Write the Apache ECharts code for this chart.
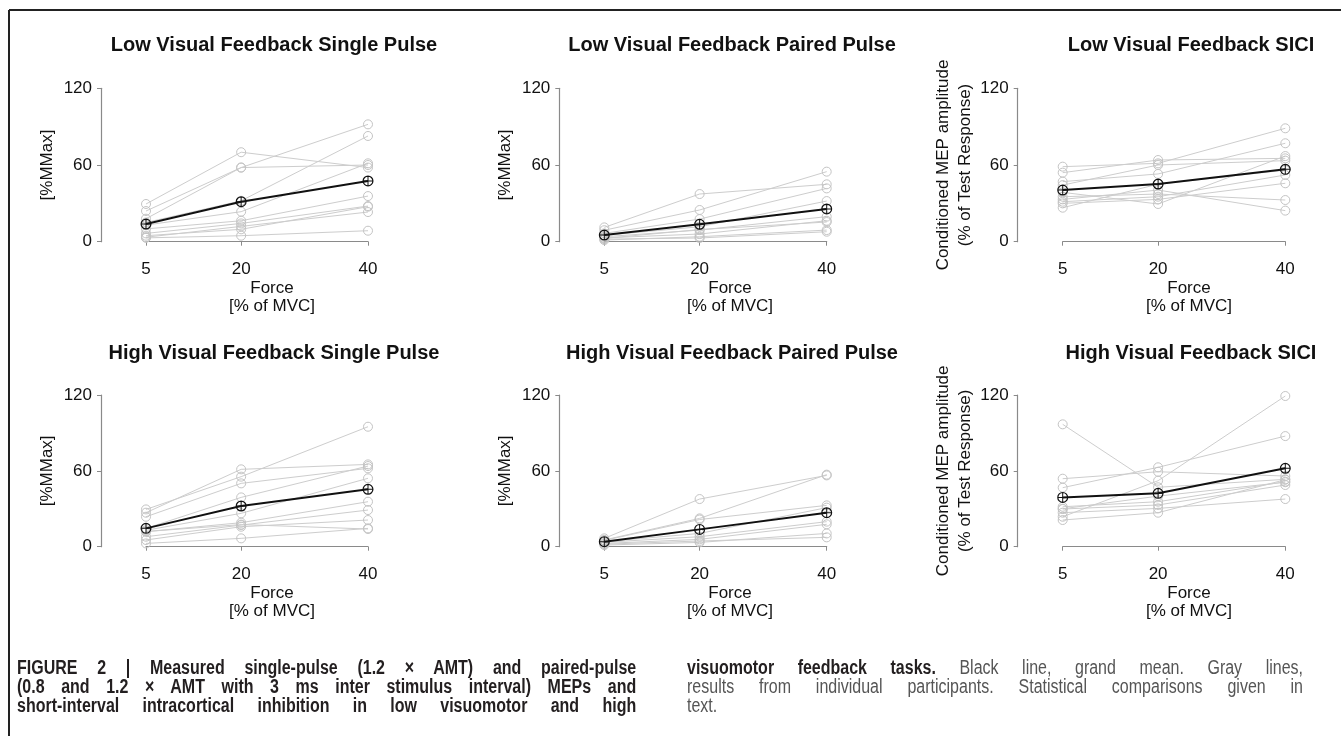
<!DOCTYPE html>
<html><head><meta charset="utf-8">
<script src="https://cdn.jsdelivr.net/npm/echarts@6/dist/echarts.min.js"></script>
<style>
html,body{margin:0;padding:0;background:#fff;}
#chart{position:absolute;left:0;top:0;width:1341px;height:736px;}
.cap{position:absolute;font-family:"Liberation Sans",Arial,sans-serif;font-size:20px;line-height:19px;transform:scaleX(0.8);transform-origin:0 0;}
.cap div{text-align:justify;text-align-last:justify;white-space:nowrap;}
.cap div.last{text-align-last:left;}
.b{font-weight:bold;color:#231f20;}
.r{color:#555;}
</style>
</head><body>
<div id="chart"></div>
<div class="cap" style="left:17px;top:658px;width:774px;">
<div class="b">FIGURE 2 | Measured single-pulse (1.2 × AMT) and paired-pulse</div>
<div class="b">(0.8 and 1.2 × AMT with 3 ms inter stimulus interval) MEPs and</div>
<div class="b">short-interval intracortical inhibition in low visuomotor and high</div>
</div>
<div class="cap" style="left:687px;top:658px;width:770px;">
<div><span class="b">visuomotor feedback tasks.</span> <span class="r">Black line, grand mean. Gray lines,</span></div>
<div class="r">results from individual participants. Statistical comparisons given in</div>
<div class="r last">text.</div>
</div>
<script>
// Force levels (x values / tick labels)
const forceLevels = [5, 20, 40];
const yTicks = [0, 60, 120];

// Panel titles
const panelTitles = [
  "Low Visual Feedback Single Pulse", "Low Visual Feedback Paired Pulse", "Low Visual Feedback SICI",
  "High Visual Feedback Single Pulse", "High Visual Feedback Paired Pulse", "High Visual Feedback SICI"
];
const yNameMMax = "[%MMax]";
const yNameSICI = "Conditioned MEP amplitude\n(% of Test Response)";
const xName = "Force\n[% of MVC]";

// Individual participants: values at 5, 20, 40 % MVC
const lowSP = [[29.5,70,58],[24,58,91.8],[18,58,60],[15,32,82.7],[13,23.5,61.3],[10,16.4,35.7],[6.5,14.3,27.9],[4.7,9.7,27.4],[3.5,12,23.2],[3,4.7,8.6]];
const lowSPMean = [13.8,31.3,47.5];
const lowPP = [[11.2,37.3,44.9],[9,24.8,54.8],[6.5,17.7,41.7],[5,11.7,31.8],[3.9,9.1,19.6],[3,6,16.4],[2.6,9.5,15.4],[1.3,3.9,9.1],[2,2.9,7.8]];
const lowPPMean = [5.2,13.6,25.6];
const lowSICI = [[58.7,61.3,88.7],[54,63.9,65.2],[47,53,77],[44.3,60,63.4],[38.6,29.5,67],[35.2,37.3,32.6],[33.1,40.4,24.3],[31.3,35.2,52.2],[30,33.1,45.7],[26.6,45,56]];
const lowSICIMean = [40.4,45.1,56.6];
const highSP = [[29.5,55.4,94.9],[26.9,61.2,65.1],[23.7,50.1,62],[14.5,39,63.8],[13,26.4,54.1],[11.9,19,35.6],[7.9,17.1,29],[5.3,15.8,21.1],[2.6,6.6,14.5],[12,17.5,14]];
const highSPMean = [14.5,32.2,45.4];
const highPP = [[6.6,37.7,56.4],[5.3,22.4,57],[5,21.5,32.7],[4,10.5,30.9],[3.5,7.9,19.8],[2.6,5.8,17.7],[1.3,3.4,10.5],[2,4.5,7.4]];
const highPPMean = [4,13.7,26.9];
const highSICI = [[96.8,47,53.3],[53.8,59.3,55.9],[46.7,62.8,87.5],[31.6,35.6,51.4],[29.8,33,48.8],[26.9,30.3,37.7],[23.7,52.2,119.2],[21.1,26.9,53],[30,40,51]];
const highSICIMean = [39,42.2,62];

const panels = [
  {ind: lowSP, mean: lowSPMean, yName: yNameMMax},
  {ind: lowPP, mean: lowPPMean, yName: yNameMMax},
  {ind: lowSICI, mean: lowSICIMean, yName: yNameSICI},
  {ind: highSP, mean: highSPMean, yName: yNameMMax},
  {ind: highPP, mean: highPPMean, yName: yNameMMax},
  {ind: highSICI, mean: highSICIMean, yName: yNameSICI}
];

// layout
const W = 1341, H = 736;
const colLeft = [146, 604.3, 1062.7];
const colRight = [368, 826.7, 1285.3];
const colCenter = [272, 730, 1189];
const rowTop = [88.3, 395];
const rowBottom = [241.7, 546.7];
const titleTop = [30, 338];
const FONT = '"Liberation Sans", Arial, sans-serif';
const meanSymbol = 'path://M10 0A10 10 0 1 1 10 20A10 10 0 1 1 10 0ZM10 2.2A7.8 7.8 0 1 0 10 17.8A7.8 7.8 0 1 0 10 2.2ZM9.1 2L10.9 2L10.9 18L9.1 18ZM2 9.1L18 9.1L18 10.9L2 10.9Z';

const grid = [], xAxis = [], yAxis = [], series = [], title = [];
panels.forEach((p, k) => {
  const r = Math.floor(k / 3), c = k % 3;
  grid.push({left: colLeft[c], width: colRight[c] - colLeft[c], top: rowTop[r], height: rowBottom[r] - rowTop[r], containLabel: false});
  title.push({text: panelTitles[k], left: colCenter[c] - 3, top: titleTop[r], textAlign: 'center',
    textStyle: {fontFamily: FONT, fontSize: 20, fontWeight: 'bold', color: '#111'}});
  const shift = (colCenter[c] - (colLeft[c] + colRight[c]) / 2) * 2;
  xAxis.push({type: 'value', gridIndex: k, min: forceLevels[0], max: forceLevels[forceLevels.length - 1], offset: 7,
    axisLine: {show: true, lineStyle: {color: '#8a8a8a', width: 1.2}},
    axisTick: {show: true, length: 4, lineStyle: {color: '#8a8a8a'}, customValues: forceLevels},
    axisLabel: {show: true, customValues: forceLevels, margin: 12, fontFamily: FONT, fontSize: 17, color: '#111'},
    splitLine: {show: false},
    name: xName, nameLocation: 'middle', nameGap: 25,
    nameTextStyle: {fontFamily: FONT, fontSize: 17, color: '#111', lineHeight: 18.5, padding: [0, 0, 0, shift]}
  });
  yAxis.push({type: 'value', gridIndex: k, min: yTicks[0], max: yTicks[yTicks.length - 1], interval: 60, offset: 45,
    axisLine: {show: true, lineStyle: {color: '#8a8a8a', width: 1.2}},
    axisTick: {show: true, length: 4, lineStyle: {color: '#8a8a8a'}},
    axisLabel: {margin: 9, fontFamily: FONT, fontSize: 17, color: '#111'},
    splitLine: {show: false},
    name: p.yName, nameLocation: 'middle', nameGap: c === 2 ? 40 : 43,
    nameTextStyle: {fontFamily: FONT, fontSize: 17, color: '#111', lineHeight: 22}
  });
  p.ind.forEach(vals => {
    series.push({type: 'line', xAxisIndex: k, yAxisIndex: k, clip: false, silent: true,
      data: forceLevels.map((f, i) => [f, vals[i]]),
      symbol: 'circle', symbolSize: 9,
      itemStyle: {color: 'rgba(255,255,255,0)', borderColor: '#c4c4c4', borderWidth: 1},
      lineStyle: {color: '#cdcdcd', width: 1}, z: 2});
  });
  series.push({type: 'line', xAxisIndex: k, yAxisIndex: k, clip: false, silent: true,
    data: forceLevels.map((f, i) => [f, p.mean[i]]),
    symbol: meanSymbol, symbolSize: 11,
    itemStyle: {color: '#111'},
    lineStyle: {color: '#111', width: 2}, z: 5});
});

const chart = echarts.init(document.getElementById('chart'), null, {renderer: 'canvas'});
chart.setOption({
  animation: false,
  backgroundColor: '#fff',
  title, grid, xAxis, yAxis, series,
  graphic: [
    {type: 'line', shape: {x1: 9, y1: 10, x2: W, y2: 10}, style: {stroke: '#222', lineWidth: 2}},
    {type: 'line', shape: {x1: 9, y1: 10, x2: 9, y2: H}, style: {stroke: '#222', lineWidth: 2}}
  ]
});
</script>
</body></html>
